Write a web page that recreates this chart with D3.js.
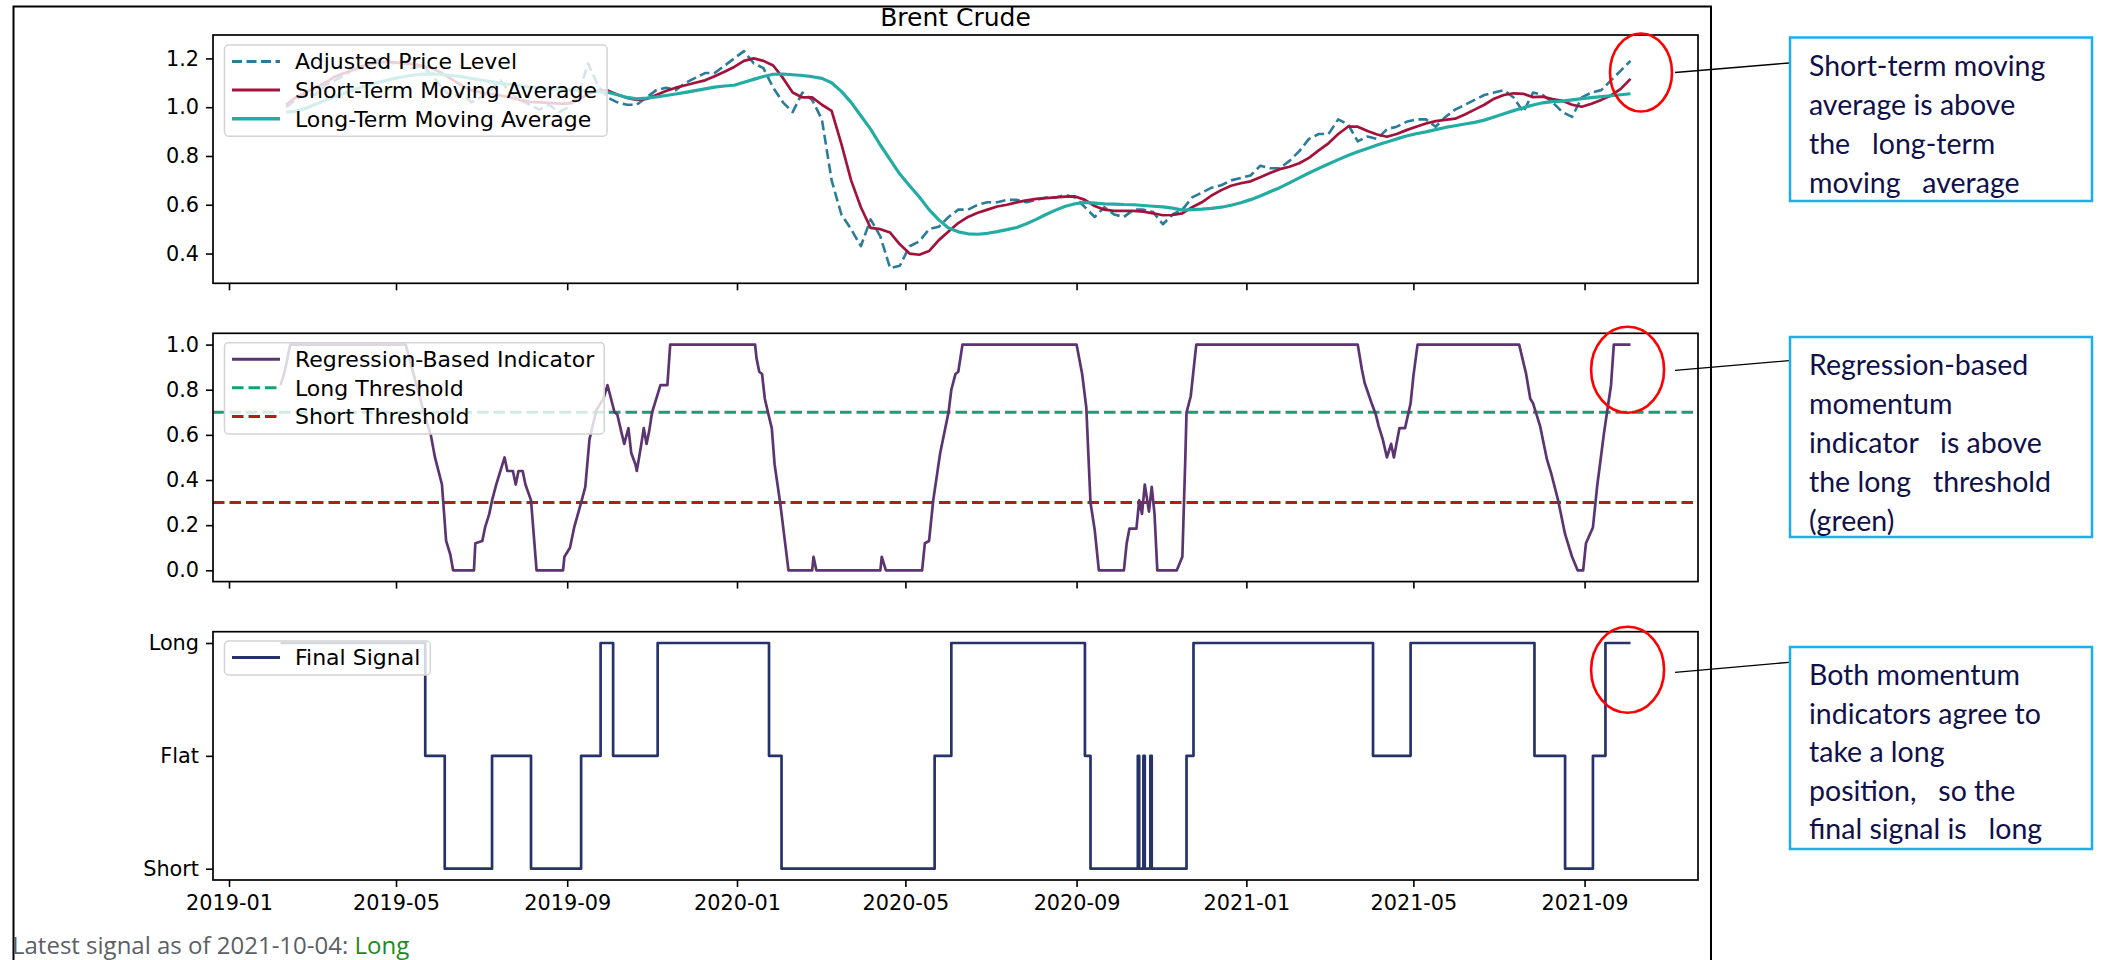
<!DOCTYPE html>
<html>
<head>
<meta charset="utf-8">
<script src="https://cdn.jsdelivr.net/npm/d3@7"></script>
<style>
  body { margin: 0; background: #fff; }
  svg text { font-family: "DejaVu Sans", sans-serif; }
</style>
</head>
<body>
<svg id="chart" width="2113" height="960"></svg>
<script>
// weekly samples, first one on priceStart
var priceStart = "2019-02-11";

var priceLevel = [
  1.00, 1.03, 1.06, 1.05, 1.09, 1.11, 1.13, 1.16, 1.17, 1.19,
  1.20, 1.18, 1.19, 1.16, 1.17, 1.13, 1.08, 1.04, 1.06, 1.02,
  1.04, 1.07, 1.11, 1.06, 1.03, 1.01, 0.99, 1.01, 0.98, 1.00,
  1.05, 1.18, 1.09, 1.04, 1.02, 1.01, 1.01, 1.04, 1.07, 1.08,
  1.07, 1.10, 1.12, 1.14, 1.14, 1.17, 1.20, 1.23, 1.18, 1.16,
  1.08, 1.02, 0.98, 1.06, 1.03, 0.95, 0.70, 0.56, 0.50, 0.43,
  0.54, 0.47, 0.34, 0.35, 0.43, 0.45, 0.50, 0.51, 0.55, 0.58,
  0.58, 0.60, 0.61, 0.61, 0.62, 0.62, 0.61, 0.62, 0.63, 0.63,
  0.64, 0.63, 0.59, 0.55, 0.59, 0.56, 0.55, 0.58, 0.58, 0.57,
  0.52, 0.56, 0.58, 0.63, 0.65, 0.67, 0.68, 0.70, 0.71, 0.72,
  0.76, 0.75, 0.75, 0.78, 0.82, 0.87, 0.89, 0.89, 0.95, 0.93,
  0.86, 0.88, 0.87, 0.91, 0.92, 0.94, 0.95, 0.95, 0.92, 0.96,
  0.99, 1.01, 1.03, 1.05, 1.06, 1.07, 1.04, 0.98, 1.06, 1.05,
  1.02, 0.98, 0.96, 1.04, 1.06, 1.07, 1.11, 1.15, 1.19
];

var shortMA = [
  1.01, 1.04, 1.06, 1.08, 1.10, 1.125, 1.14, 1.155, 1.17, 1.18,
  1.185, 1.185, 1.18, 1.178, 1.17, 1.16, 1.14, 1.115, 1.09, 1.07,
  1.06, 1.055, 1.048, 1.04, 1.03, 1.022, 1.02, 1.018, 1.015, 1.015,
  1.03, 1.055, 1.068, 1.068, 1.052, 1.038, 1.03, 1.034, 1.05, 1.066,
  1.08, 1.09, 1.10, 1.11, 1.127, 1.145, 1.165, 1.19, 1.20, 1.19,
  1.171, 1.12, 1.06, 1.04, 1.04, 1.01, 0.985, 0.85, 0.70, 0.59,
  0.505, 0.50, 0.486, 0.438, 0.40, 0.395, 0.41, 0.455, 0.49, 0.525,
  0.55, 0.567, 0.58, 0.593, 0.60, 0.61, 0.618, 0.624, 0.627, 0.63,
  0.633, 0.634, 0.62, 0.595, 0.58, 0.575, 0.575, 0.575, 0.572, 0.565,
  0.557, 0.558, 0.565, 0.59, 0.61, 0.638, 0.66, 0.678, 0.688, 0.696,
  0.713, 0.73, 0.746, 0.756, 0.77, 0.792, 0.823, 0.852, 0.89, 0.92,
  0.92, 0.902, 0.888, 0.879, 0.89, 0.906, 0.92, 0.933, 0.943, 0.948,
  0.953, 0.97, 0.99, 1.01, 1.035, 1.05, 1.057, 1.055, 1.041, 1.043,
  1.033, 1.026, 1.01, 1.002, 1.014, 1.03, 1.048, 1.075, 1.116
];

var longMA = [
  0.98, 0.984, 0.995, 1.012, 1.028, 1.043, 1.058, 1.072, 1.086, 1.097,
  1.107, 1.117, 1.125, 1.131, 1.136, 1.137, 1.134, 1.130, 1.125, 1.118,
  1.111, 1.105, 1.099, 1.093, 1.088, 1.083, 1.079, 1.075, 1.073, 1.071,
  1.069, 1.067, 1.064, 1.061, 1.051, 1.04, 1.034, 1.037, 1.042, 1.048,
  1.054, 1.061, 1.068, 1.075, 1.082, 1.087, 1.09, 1.102, 1.114, 1.126,
  1.135, 1.136, 1.133, 1.13, 1.125, 1.118, 1.10, 1.065, 1.02, 0.965,
  0.91, 0.845, 0.785, 0.726, 0.678, 0.632, 0.58, 0.538, 0.505, 0.489,
  0.481, 0.479, 0.483, 0.49, 0.498, 0.507, 0.522, 0.54, 0.56, 0.578,
  0.594, 0.604, 0.61, 0.607, 0.604, 0.603, 0.601, 0.60, 0.597, 0.594,
  0.591, 0.586, 0.578, 0.58, 0.582, 0.585, 0.59, 0.598, 0.608, 0.621,
  0.636, 0.653, 0.67, 0.69, 0.71, 0.73, 0.749, 0.767, 0.785, 0.802,
  0.817, 0.831, 0.845, 0.857, 0.87, 0.882, 0.891, 0.899, 0.908, 0.917,
  0.924, 0.931, 0.938, 0.947, 0.96, 0.973, 0.986, 0.998, 1.009, 1.018,
  1.023, 1.025, 1.03, 1.035, 1.039, 1.043, 1.047, 1.051, 1.055
];

var regIndicator = [
  ["2019-02-07",0.82],["2019-02-10",0.88],["2019-02-14",1.0],["2019-05-08",1.0],["2019-05-11",0.93],
  ["2019-05-21",0.70],["2019-05-26",0.60],["2019-05-29",0.50],["2019-06-03",0.38],["2019-06-06",0.13],
  ["2019-06-09",0.07],["2019-06-11",0.0],["2019-06-26",0.0],["2019-06-27",0.12],["2019-07-02",0.13],
  ["2019-07-04",0.19],["2019-07-07",0.25],["2019-07-09",0.31],["2019-07-12",0.38],["2019-07-15",0.44],
  ["2019-07-18",0.50],["2019-07-20",0.44],["2019-07-24",0.44],["2019-07-26",0.38],["2019-07-28",0.44],
  ["2019-07-31",0.44],["2019-08-02",0.38],["2019-08-06",0.31],["2019-08-10",0.0],["2019-08-29",0.0],
  ["2019-08-30",0.06],["2019-09-03",0.10],["2019-09-06",0.19],["2019-09-11",0.30],["2019-09-14",0.37],
  ["2019-09-17",0.58],["2019-09-22",0.71],["2019-09-27",0.76],["2019-09-30",0.82],["2019-10-05",0.70],
  ["2019-10-07",0.69],["2019-10-10",0.61],["2019-10-12",0.56],["2019-10-15",0.63],["2019-10-17",0.52],
  ["2019-10-20",0.47],["2019-10-21",0.44],["2019-10-24",0.55],["2019-10-26",0.63],["2019-10-28",0.56],
  ["2019-10-30",0.62],["2019-11-01",0.70],["2019-11-07",0.82],["2019-11-12",0.82],["2019-11-14",1.0],
  ["2020-01-14",1.0],["2020-01-15",0.94],["2020-01-17",0.88],["2020-01-19",0.87],["2020-01-21",0.76],
  ["2020-01-24",0.68],["2020-01-26",0.63],["2020-01-28",0.47],["2020-02-01",0.30],["2020-02-07",0.0],
  ["2020-02-24",0.0],["2020-02-25",0.06],["2020-02-27",0.0],["2020-04-13",0.0],["2020-04-14",0.06],
  ["2020-04-17",0.0],["2020-05-13",0.0],["2020-05-15",0.12],["2020-05-18",0.13],["2020-05-21",0.31],
  ["2020-05-26",0.52],["2020-05-30",0.64],["2020-06-01",0.70],["2020-06-03",0.80],["2020-06-06",0.87],
  ["2020-06-08",0.88],["2020-06-11",1.0],["2020-09-01",1.0],["2020-09-05",0.87],["2020-09-08",0.72],
  ["2020-09-11",0.30],["2020-09-14",0.18],["2020-09-17",0.0],["2020-10-05",0.0],["2020-10-07",0.12],
  ["2020-10-09",0.185],["2020-10-14",0.185],["2020-10-16",0.31],["2020-10-18",0.25],["2020-10-20",0.38],
  ["2020-10-23",0.26],["2020-10-25",0.37],["2020-10-27",0.25],["2020-10-29",0.0],["2020-11-12",0.0],
  ["2020-11-16",0.06],["2020-11-18",0.47],["2020-11-19",0.70],["2020-11-22",0.77],["2020-11-26",1.0],
  ["2021-03-22",1.0],["2021-03-25",0.89],["2021-03-27",0.83],["2021-04-01",0.74],["2021-04-04",0.69],
  ["2021-04-06",0.64],["2021-04-09",0.58],["2021-04-12",0.50],["2021-04-15",0.56],["2021-04-17",0.50],
  ["2021-04-21",0.63],["2021-04-25",0.63],["2021-04-29",0.74],["2021-05-01",0.86],["2021-05-04",1.0],
  ["2021-07-16",1.0],["2021-07-21",0.87],["2021-07-24",0.76],["2021-07-26",0.74],["2021-07-31",0.64],
  ["2021-08-05",0.49],["2021-08-08",0.43],["2021-08-13",0.31],["2021-08-18",0.16],["2021-08-23",0.06],
  ["2021-08-27",0.0],["2021-08-31",0.0],["2021-09-02",0.12],["2021-09-07",0.19],["2021-09-10",0.37],
  ["2021-09-15",0.61],["2021-09-20",0.82],["2021-09-22",1.0],["2021-10-04",1.0]
];

var longThreshold = 0.7,
    shortThreshold = 0.3;

// 1 = Long, 0 = Flat, -1 = Short, holds until next entry
var finalSignal = [
  ["2019-02-07",1],["2019-05-22",0],["2019-06-05",-1],["2019-07-09",0],["2019-08-06",-1],
  ["2019-09-11",0],["2019-09-25",1],["2019-10-04",0],["2019-11-05",1],["2020-01-24",0],
  ["2020-02-02",-1],["2020-05-22",0],["2020-06-03",1],["2020-09-07",0],["2020-09-11",-1],
  ["2020-10-15",0],["2020-10-16",-1],["2020-10-19",0],["2020-10-20",-1],["2020-10-24",0],
  ["2020-10-25",-1],["2020-11-19",0],["2020-11-24",1],["2021-04-02",0],["2021-04-29",1],
  ["2021-07-27",0],["2021-08-18",-1],["2021-09-07",0],["2021-09-16",1],["2021-10-04",1]
];

var priceTicks = [0.4, 0.6, 0.8, 1.0, 1.2];
var indicatorTicks = [0.0, 0.2, 0.4, 0.6, 0.8, 1.0];
var signalTicks = [-1, 0, 1];
var signalLabels = {"-1": "Short", "0": "Flat", "1": "Long"};

var chartTitle = "Brent Crude";
var latestDate = "2021-10-04", latestSignal = "Long";

var notes = [
  ["Short-term moving", "average is above", "the   long-term", "moving   average"],
  ["Regression-based", "momentum", "indicator   is above", "the long   threshold", "(green)"],
  ["Both momentum", "indicators agree to", "take a long", "position,   so the", "final signal is   long"]
];

var parseDate = d3.timeParse("%Y-%m-%d");
var weekStart = parseDate(priceStart);
var weeks = priceLevel.map(function(d, i) { return d3.timeDay.offset(weekStart, 7 * i); });

var svg = d3.select("#chart");

var left = 213, right = 1698, panelH = 248.3;
var tops = [35, 333.3, 631.7];

// matplotlib style 5% padding round the data
var first = parseDate(regIndicator[0][0]), last = weeks[weeks.length - 1];
var span = last - first;
var x = d3.scaleTime()
    .domain([new Date(+first - span * 0.05), new Date(+last + span * 0.05)])
    .range([left, right]);

var y1 = d3.scaleLinear().domain([0.278, 1.296]).range([tops[0] + panelH, tops[0]]);
var y2 = d3.scaleLinear().domain([-0.05, 1.05]).range([tops[1] + panelH, tops[1]]);
var y3 = d3.scaleLinear().domain([-1.1, 1.1]).range([tops[2] + panelH, tops[2]]);

var xTicks = d3.timeMonth.every(4).range(x.domain()[0], x.domain()[1]);

// outer frame
svg.append("path")
    .attr("d", "M13.5,960V6.5H1711V960")
    .attr("fill", "none").attr("stroke", "#000").attr("stroke-width", 2);

svg.append("text")
    .attr("x", (left + right) / 2).attr("y", 25.5)
    .attr("text-anchor", "middle")
    .style("font-size", "25px")
    .text(chartTitle);

function panel(i, y, ticks, fmt, xLabels) {
  var g = svg.append("g");
  g.append("clipPath").attr("id", "clip" + i)
    .append("rect").attr("x", left).attr("y", tops[i]).attr("width", right - left).attr("height", panelH);

  var ya = g.append("g")
      .attr("transform", "translate(" + left + ",0)")
      .call(d3.axisLeft(y).tickValues(ticks).tickFormat(fmt).tickSize(7).tickPadding(7));
  var xa = g.append("g")
      .attr("transform", "translate(0," + (tops[i] + panelH) + ")")
      .call(d3.axisBottom(x).tickValues(xTicks).tickSize(7).tickPadding(8)
        .tickFormat(xLabels ? d3.timeFormat("%Y-%m") : ""));
  [ya, xa].forEach(function(a) {
    a.select(".domain").remove();
    a.selectAll("line").attr("stroke", "#000").attr("stroke-width", 1.6);
    a.selectAll("text").attr("fill", "#000").style("font-size", "20.8px")
      .style("font-family", "DejaVu Sans, sans-serif");
  });
  var plot = g.append("g").attr("clip-path", "url(#clip" + i + ")");
  return {g: g, plot: plot};
}

function frame(p, i) {
  p.g.append("rect")
    .attr("x", left).attr("y", tops[i]).attr("width", right - left).attr("height", panelH)
    .attr("fill", "none").attr("stroke", "#000").attr("stroke-width", 1.7);
}

function legend(p, top, items) {
  var lg = p.g.append("g");
  var box = lg.append("rect")
      .attr("x", 224.5).attr("y", top)
      .attr("height", 34 + (items.length - 1) * 28.6)
      .attr("rx", 4)
      .attr("fill", "#fff").attr("fill-opacity", 0.8)
      .attr("stroke", "#d4d4d4").attr("stroke-width", 1.5);
  var maxW = 0;
  items.forEach(function(it, k) {
    var cy = top + 16.5 + k * 28.6;
    lg.append("line")
      .attr("x1", 232).attr("x2", 280).attr("y1", cy).attr("y2", cy)
      .attr("stroke", it.color).attr("stroke-width", it.width)
      .attr("stroke-dasharray", it.dash || null);
    var t = lg.append("text")
      .attr("x", 295).attr("y", cy + 7.8)
      .style("font-size", "22px")
      .text(it.label);
    maxW = Math.max(maxW, t.node().getComputedTextLength());
  });
  box.attr("width", 295 - 224.5 + maxW + 10);
}

function line(p, data, xf, yf, color, w, dash, curve) {
  p.plot.append("path")
    .datum(data)
    .attr("fill", "none")
    .attr("stroke", color)
    .attr("stroke-width", w)
    .attr("stroke-dasharray", dash || null)
    .attr("stroke-linejoin", "round")
    .attr("d", d3.line().x(xf).y(yf).curve(curve || d3.curveLinear));
}

// panel 1: price and moving averages
var p1 = panel(0, y1, priceTicks, d3.format(".1f"), false);
line(p1, priceLevel, function(d, i) { return x(weeks[i]); }, function(d) { return y1(d); }, "#2b7b9b", 2.6, "10,4.5");
line(p1, shortMA, function(d, i) { return x(weeks[i]); }, function(d) { return y1(d); }, "#a3123a", 2.7);
line(p1, longMA, function(d, i) { return x(weeks[i]); }, function(d) { return y1(d); }, "#22aca4", 3.2);
frame(p1, 0);
legend(p1, 45, [
  {label: "Adjusted Price Level", color: "#2b7b9b", width: 3, dash: "10,4.5"},
  {label: "Short-Term Moving Average", color: "#a3123a", width: 3},
  {label: "Long-Term Moving Average", color: "#22aca4", width: 3.4}
]);

// panel 2: regression indicator
var p2 = panel(1, y2, indicatorTicks, d3.format(".1f"), false);
line(p2, x.domain(), function(d) { return x(d); }, function() { return y2(longThreshold); }, "#17a074", 3, "11.5,5");
line(p2, x.domain(), function(d) { return x(d); }, function() { return y2(shortThreshold); }, "#b01e1e", 3, "11.5,5");
line(p2, regIndicator, function(d) { return x(parseDate(d[0])); }, function(d) { return y2(d[1]); }, "#5c3472", 2.7);
frame(p2, 1);
legend(p2, 342.7, [
  {label: "Regression-Based Indicator", color: "#5c3472", width: 3},
  {label: "Long Threshold", color: "#17a074", width: 3, dash: "11.5,5"},
  {label: "Short Threshold", color: "#b01e1e", width: 3, dash: "11.5,5"}
]);

// panel 3: final signal
var p3 = panel(2, y3, signalTicks, function(d) { return signalLabels[d]; }, true);
line(p3, finalSignal, function(d) { return x(parseDate(d[0])); }, function(d) { return y3(d[1]); }, "#26336b", 2.7, null, d3.curveStepAfter);
frame(p3, 2);
legend(p3, 641, [{label: "Final Signal", color: "#26336b", width: 3}]);

// status line under the chart
var statusLine = svg.append("text")
    .attr("x", 12).attr("y", 954)
    .style("font-family", "Open Sans, sans-serif")
    .style("font-size", "24px")
    .attr("fill", "#5b5f66");
statusLine.append("tspan").text("Latest signal as of " + latestDate + ": ");
statusLine.append("tspan").attr("fill", "#1e8a1e").text(latestSignal);

// annotations
var rings = [
  {cx: 1641, cy: 72.5, rx: 31, ry: 39, x1: 1675, y1: 72.5, x2: 1789, y2: 63, by: 37.5, bh: 163.5, step: 39},
  {cx: 1627.6, cy: 369.7, rx: 36.5, ry: 43, x1: 1675, y1: 370.4, x2: 1789, y2: 360.7, by: 337, bh: 200, step: 39},
  {cx: 1627.6, cy: 669.7, rx: 36.5, ry: 43, x1: 1675, y1: 672.3, x2: 1789, y2: 662.3, by: 647, bh: 202, step: 38.5}
];

rings.forEach(function(r, i) {
  svg.append("ellipse")
    .attr("cx", r.cx).attr("cy", r.cy).attr("rx", r.rx).attr("ry", r.ry)
    .attr("fill", "none").attr("stroke", "#ff0000").attr("stroke-width", 2.6);
  svg.append("line")
    .attr("x1", r.x1).attr("y1", r.y1).attr("x2", r.x2).attr("y2", r.y2)
    .attr("stroke", "#000").attr("stroke-width", 1.3);
  svg.append("rect")
    .attr("x", 1790).attr("y", r.by).attr("width", 302).attr("height", r.bh)
    .attr("fill", "#fff").attr("stroke", "#1aaeea").attr("stroke-width", 2.5);
  var t = svg.append("text")
    .style("font-family", "Lato, sans-serif")
    .style("font-size", "28.5px")
    .style("white-space", "pre")
    .attr("fill", "#10104a");
  notes[i].forEach(function(s, k) {
    t.append("tspan")
      .attr("x", 1809)
      .attr("y", r.by + 28.5 + k * r.step + 9.5)
      .text(s);
  });
});
</script>
</body>
</html>
